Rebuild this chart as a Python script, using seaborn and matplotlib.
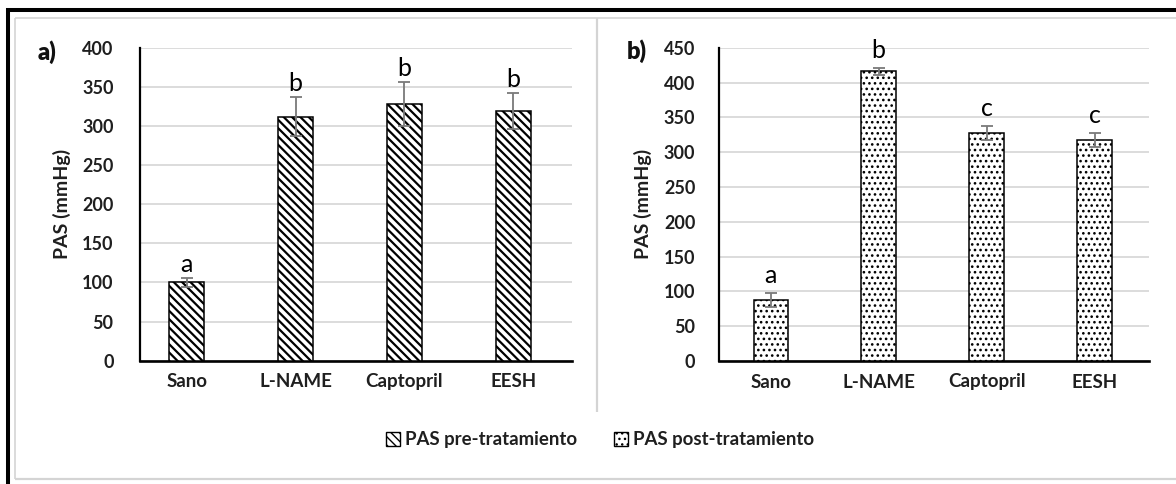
import matplotlib
matplotlib.use("Agg")
import matplotlib.pyplot as plt
import pandas as pd
import seaborn as sns
from matplotlib.lines import Line2D
from matplotlib.patches import Patch

# Presión arterial sistólica (media ± EE) por grupo
grupos = ["Sano", "L-NAME", "Captopril", "EESH"]
pas_pre = [100, 312, 328, 319]
pas_pre_ee = [6, 25, 28, 23]
letras_pre = ["a", "b", "b", "b"]
pas_post = [87, 416, 328, 318]
pas_post_ee = [10, 5, 10, 10]
letras_post = ["a", "b", "c", "c"]
ticks_pre = [0, 50, 100, 150, 200, 250, 300, 350, 400]
ticks_post = [0, 50, 100, 150, 200, 250, 300, 350, 400, 450]
series = ["PAS pre-tratamiento", "PAS post-tratamiento"]
paneles = ["a)", "b)"]

HATCH_PRE = "\\\\\\\\"
HATCH_POST = "..."

sns.set_theme(style="white")
plt.rcParams["font.family"] = ["Lato", "DejaVu Sans"]
plt.rcParams["hatch.color"] = "black"

W, H = 1176, 484
fig = plt.figure(figsize=(W / 100, H / 100), dpi=100)
fig.patch.set_facecolor("white")

TXT = "#1f1f1f"


def px_axes(left, right, top, bottom):
    return fig.add_axes([left / W, 1 - bottom / H, (right - left) / W, (bottom - top) / H])


def panel(ax, valores, errores, letras, ticks, hatch, hatch_lw, xlim, pad_y, off):
    df = pd.DataFrame({"grupo": grupos, "pas": valores})
    with plt.rc_context({"hatch.linewidth": hatch_lw}):
        sns.barplot(data=df, x="grupo", y="pas", ax=ax, color="white",
                    edgecolor="black", linewidth=1.1, hatch=hatch,
                    width=0.32, errorbar=None, zorder=3)
    for p in ax.patches:
        p.set_facecolor("white")
        if hasattr(p, "set_hatch_linewidth"):
            p.set_hatch_linewidth(hatch_lw)
    x = list(range(len(grupos)))
    ax.errorbar(x, valores, yerr=errores, fmt="none", ecolor="#7a7a7a",
                elinewidth=1.3, capsize=4.5, capthick=1.3, zorder=4)
    for i, (v, e, l) in enumerate(zip(valores, errores, letras)):
        ax.annotate(l, (i, v + e), xytext=(0, off), textcoords="offset pixels",
                    ha="center", va="baseline", fontsize=18, color="black")
    ax.set_xlim(*xlim)
    ax.set_ylim(ticks[0], ticks[-1])
    ax.set_yticks(ticks)
    ax.set_xlabel("")
    ax.set_ylabel("PAS (mmHg)", fontsize=14, fontweight="bold", color=TXT, va="center")
    ax.yaxis.grid(True, color="#d9d9d9", lw=1.3)
    ax.xaxis.grid(False)
    ax.set_axisbelow(True)
    for s in ("top", "right"):
        ax.spines[s].set_visible(False)
    ax.spines["left"].set_color("black")
    ax.spines["left"].set_linewidth(1.6)
    ax.spines["bottom"].set_color("black")
    ax.spines["bottom"].set_linewidth(1.9)
    ax.tick_params(axis="y", length=0, pad=pad_y, labelsize=13, labelcolor=TXT)
    ax.tick_params(axis="x", length=0, pad=9, labelsize=13.5, labelcolor=TXT)
    for t in ax.get_xticklabels() + ax.get_yticklabels():
        t.set_fontweight("bold")
    ax.set_facecolor("white")


ax_a = px_axes(140, 572, 47.7, 360.7)
ax_b = px_axes(719, 1149, 47.7, 361)
panel(ax_a, pas_pre, pas_pre_ee, letras_pre, ticks_pre, HATCH_PRE, 1.6,
      (-0.43, 3.54), 19, 6)
panel(ax_b, pas_post, pas_post_ee, letras_post, ticks_post, HATCH_POST, 1.1,
      (-0.48, 3.505), 17, 10)
ax_a.yaxis.set_label_coords((62 - 140) / 432, 0.5)
ax_b.yaxis.set_label_coords((643 - 719) / 430, 0.5)

fig.text(47 / W, 1 - 52 / H, paneles[0], fontsize=17, fontweight="heavy",
         ha="center", va="center", color="#111111")
fig.text(637 / W, 1 - 51 / H, paneles[1], fontsize=17, fontweight="heavy",
         ha="center", va="center", color="#111111")

# Leyenda común
h_pre = Patch(facecolor="white", edgecolor="black", hatch=HATCH_PRE, label=series[0])
h_post = Patch(facecolor="white", edgecolor="black", hatch=HATCH_POST, label=series[1])
for h, lw in ((h_pre, 1.6), (h_post, 1.1)):
    if hasattr(h, "set_hatch_linewidth"):
        h.set_hatch_linewidth(lw)
fig.legend(handles=[h_pre, h_post], loc="center", bbox_to_anchor=(600 / W, 1 - 440 / H),
           ncol=2, frameon=False, prop={"size": 13.4, "weight": "bold"},
           handlelength=0.75, handleheight=0.75, handletextpad=0.25, columnspacing=2.0,
           labelcolor=TXT)


# Marcos de la figura
def fline(xs, ys, color, lw):
    fig.add_artist(Line2D([x / W for x in xs], [1 - y / H for y in ys],
                          transform=fig.transFigure, color=color, lw=lw,
                          solid_capstyle="butt"))


fline([15, W], [18, 18], "#d4d4d4", 1.2)
fline([15, 15], [18, 479], "#d4d4d4", 1.2)
fline([15, W], [479, 479], "#d4d4d4", 1.6)
fline([597, 597], [18, 412], "#d4d4d4", 1.6)
fline([6, W], [10, 10], "black", 2.9)
fline([8, 8], [8, H], "black", 2.9)

fig.savefig("out.png", dpi=100, facecolor="white")
